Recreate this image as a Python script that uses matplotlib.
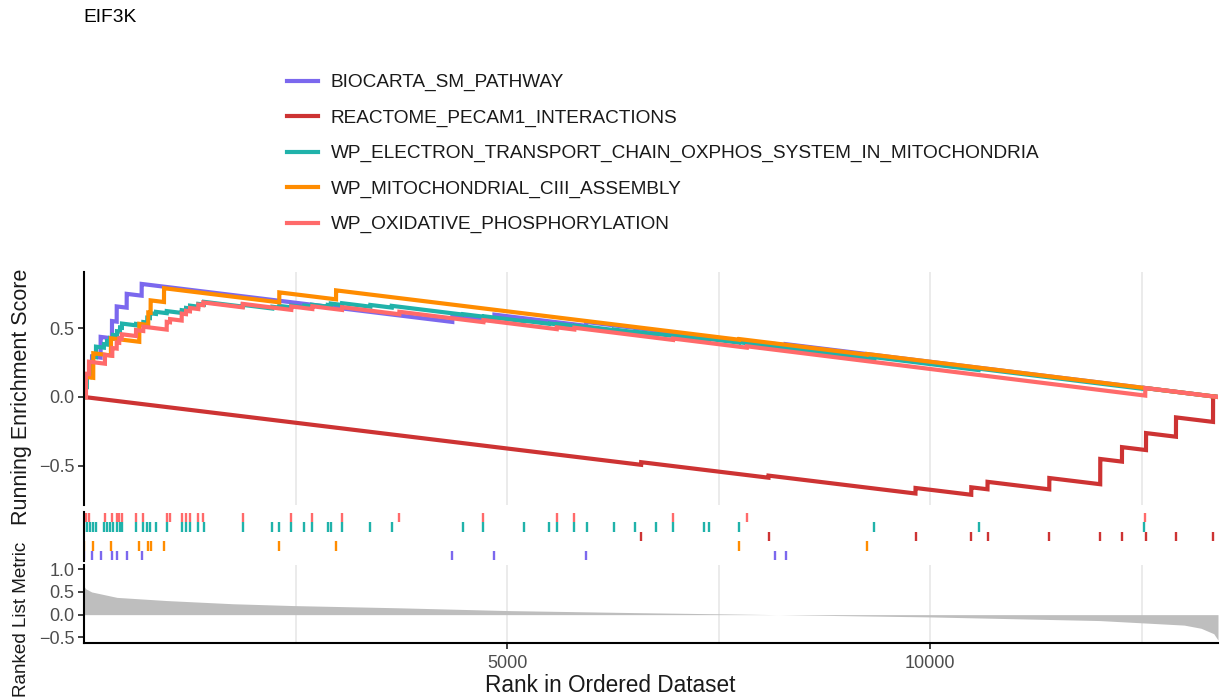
import matplotlib

matplotlib.use("Agg")
import matplotlib.pyplot as plt
import numpy as np
from matplotlib.lines import Line2D

plt.rcParams["font.family"] = ["Liberation Sans", "DejaVu Sans"]

# ---- data ------------------------------------------------------------------
N_GENES = 13400
plot_title = "EIF3K"

set_names = [
    "BIOCARTA_SM_PATHWAY",
    "REACTOME_PECAM1_INTERACTIONS",
    "WP_ELECTRON_TRANSPORT_CHAIN_OXPHOS_SYSTEM_IN_MITOCHONDRIA",
    "WP_MITOCHONDRIAL_CIII_ASSEMBLY",
    "WP_OXIDATIVE_PHOSPHORYLATION",
]
set_colors = ["#7B68EE", "#CD3333", "#20B2AA", "#FF8C00", "#FF6A6A"]

# hit ranks (rug) and running-score jump at each hit
hits_biocarta = [3, 95, 197, 331, 387, 505, 682, 4353, 4850, 5934, 8168, 8290]
jumps_biocarta = [0.155, 0.145, 0.15, 0.125, 0.11, 0.1, 0.085, 0.045, 0.045, 0.028, 0.008, 0.008]

hits_pecam1 = [6584, 8089, 9826, 10485, 10677, 11407, 12009, 12266, 12550, 12904, 13342]
jumps_pecam1 = [0.019, 0.015, 0.04, 0.054, 0.054, 0.082, 0.183, 0.105, 0.123, 0.14, 0.185]

hits_etc = [3, 35, 71, 106, 142, 236, 272, 307, 343, 390, 426, 449, 615, 701, 748, 780,
            851, 978, 1155, 1206, 1253, 1351, 1418, 1876, 2226, 2308, 2450, 2604, 2695,
            2881, 2916, 3050, 3384, 3637, 4476, 4720, 5204, 5500, 5587, 5795, 5949, 6257,
            6509, 6758, 6962, 7329, 7391, 7742, 9338, 10571, 12530]
jumps_etc = [0.075, 0.075, 0.075, 0.075, 0.075, 0.025, 0.025, 0.025, 0.025, 0.03, 0.03,
             0.03, 0.01, 0.02, 0.035, 0.035, 0.015, 0.015, 0.02, 0.02, 0.02, 0.02, 0.02,
             0.0125, 0.0125, 0.0125, 0.0125, 0.0125, 0.0125, 0.0125, 0.0125, 0.0125,
             0.0125, 0.0125, 0.0032, 0.0032, 0.0032, 0.0032, 0.0032, 0.0032, 0.0032,
             0.0032, 0.0032, 0.0032, 0.0032, 0.0032, 0.0032, 0.0032, 0.012, 0.01, 0.008]

hits_ciii = [4, 110, 319, 654, 760, 788, 946, 2308, 2979, 7742, 9252]
jumps_ciii = [0.147, 0.178, 0.124, 0.13, 0.09, 0.09, 0.1, 0.072, 0.065, 0.005, 0.005]

hits_oxphos = [24, 59, 248, 335, 387, 417, 446, 615, 701, 978, 1017, 1155, 1206, 1253,
               1351, 1410, 1876, 2450, 2699, 3050, 3727, 4720, 5587, 5795, 6962, 7833, 12541]
jumps_oxphos = [0.17, 0.09, 0.064, 0.056, 0.044, 0.032, 0.032, 0.043, 0.031, 0.056, 0.023,
                0.05, 0.024, 0.024, 0.032, 0.02, 0.025, 0.025, 0.02, 0.02, 0.018, 0.015,
                0.013, 0.013, 0.01, 0.01, 0.055]

all_hits = [hits_biocarta, hits_pecam1, hits_etc, hits_ciii, hits_oxphos]
all_jumps = [jumps_biocarta, jumps_pecam1, jumps_etc, jumps_ciii, jumps_oxphos]

# rug row of each set, counted from the bottom
rug_rows = [0, 2, 3, 1, 4]

# ranked list metric, sampled along the rank axis
metric_rank = [1, 20, 90, 390, 980, 1760, 2470, 3740, 5000, 6500, 8200, 10000, 11000,
               12000, 12500, 13000, 13200, 13350, 13400]
metric_value = [0.62, 0.57, 0.5, 0.38, 0.31, 0.24, 0.2, 0.15, 0.09, 0.045, 0.0, -0.05,
                -0.09, -0.13, -0.18, -0.23, -0.3, -0.42, -0.56]


def running_score(hits, jumps, n):
    step = np.full(n, -sum(jumps) / (n - len(hits)))
    step[np.asarray(hits) - 1] = jumps
    return np.concatenate([[0.0], np.cumsum(step)])


W, H = 1220, 698
X0, X1 = 84, 1218
GRID = "#EBEBEB"
TICK_COL = "#4D4D4D"


def box(top, bottom):
    return [X0 / W, 1 - bottom / H, (X1 - X0) / W, (bottom - top) / H]


def style_axis(ax, bottom=False):
    for side in ("top", "right"):
        ax.spines[side].set_visible(False)
    ax.spines["bottom"].set_visible(bottom)
    for side in ("left", "bottom"):
        ax.spines[side].set_linewidth(1.5)
    ax.set_xlim(0, N_GENES)
    ax.tick_params(axis="both", length=4, width=1.3, color="#333333",
                   labelsize=13, labelcolor=TICK_COL, pad=3)
    ax.set_facecolor("none")


fig = plt.figure(figsize=(W / 100, H / 100), dpi=100)

# ---- running enrichment score ----------------------------------------------
ax_es = fig.add_axes(box(272, 505))
style_axis(ax_es)
for g in (2500, 5000, 7500, 10000, 12500):
    ax_es.axvline(g, color=GRID, lw=1.4, zorder=0)
x = np.arange(0, N_GENES + 1)
for hits, jumps, color in zip(all_hits, all_jumps, set_colors):
    ax_es.plot(x, running_score(hits, jumps, N_GENES), color=color, lw=3.0,
               solid_joinstyle="miter", zorder=2)
ax_es.set_ylim(-0.783, 0.906)
ax_es.set_xticks([])
ax_es.set_yticks([-0.5, 0.0, 0.5])
ax_es.set_yticklabels(["\u22120.5", "0.0", "0.5"])

# ---- rug of hits -----------------------------------------------------------
ax_rug = fig.add_axes(box(512, 561))
style_axis(ax_rug)
for hits, row, color in zip(all_hits, rug_rows, set_colors):
    ax_rug.vlines(hits, row, row + 1, color=color, lw=1.7)
ax_rug.set_ylim(-0.1, 5.1)
ax_rug.set_xticks([])
ax_rug.set_yticks([])

# ---- ranked list metric ----------------------------------------------------
ax_m = fig.add_axes(box(565, 643))
style_axis(ax_m, bottom=True)
for g in (2500, 5000, 7500, 10000, 12500):
    ax_m.axvline(g, color=GRID, lw=1.4, zorder=0)
ax_m.fill_between(metric_rank, 0, metric_value, color="#BEBEBE", lw=0, zorder=1)
ax_m.set_ylim(-0.624, 1.093)
ax_m.set_yticks([-0.5, 0.0, 0.5, 1.0])
ax_m.set_yticklabels(["\u22120.5", "0.0", "0.5", "1.0"])
ax_m.set_xticks([5000, 10000])
ax_m.set_xticklabels(["5000", "10000"])
ax_m.tick_params(axis="x", pad=5)

# ---- labels ----------------------------------------------------------------
fig.text(83 / W, 1 - 18 / H, plot_title, fontsize=13.8, va="center", ha="left")
fig.text(22 / W, 1 - 397 / H, "Running Enrichment Score", fontsize=15.5,
         rotation=90, va="center", ha="center", color="#1A1A1A")
fig.text(22 / W, 1 - 697 / H, "Ranked List Metric", fontsize=13.6,
         rotation=90, va="bottom", ha="center", color="#1A1A1A")
fig.text(610 / W, 1 - 686 / H, "Rank in Ordered Dataset", fontsize=16.3,
         va="center", ha="center", color="#1A1A1A")

# legend drawn by hand above the panels
for i, (name, color) in enumerate(zip(set_names, set_colors)):
    yy = 1 - (80.5 + 35.6 * i) / H
    fig.add_artist(Line2D([287 / W, 318 / W], [yy, yy], color=color, lw=3.0))
    fig.text(331 / W, yy - 2 / H, name, fontsize=13.7, va="center", ha="left",
             color="#1A1A1A")

fig.savefig("out.png", dpi=100)
